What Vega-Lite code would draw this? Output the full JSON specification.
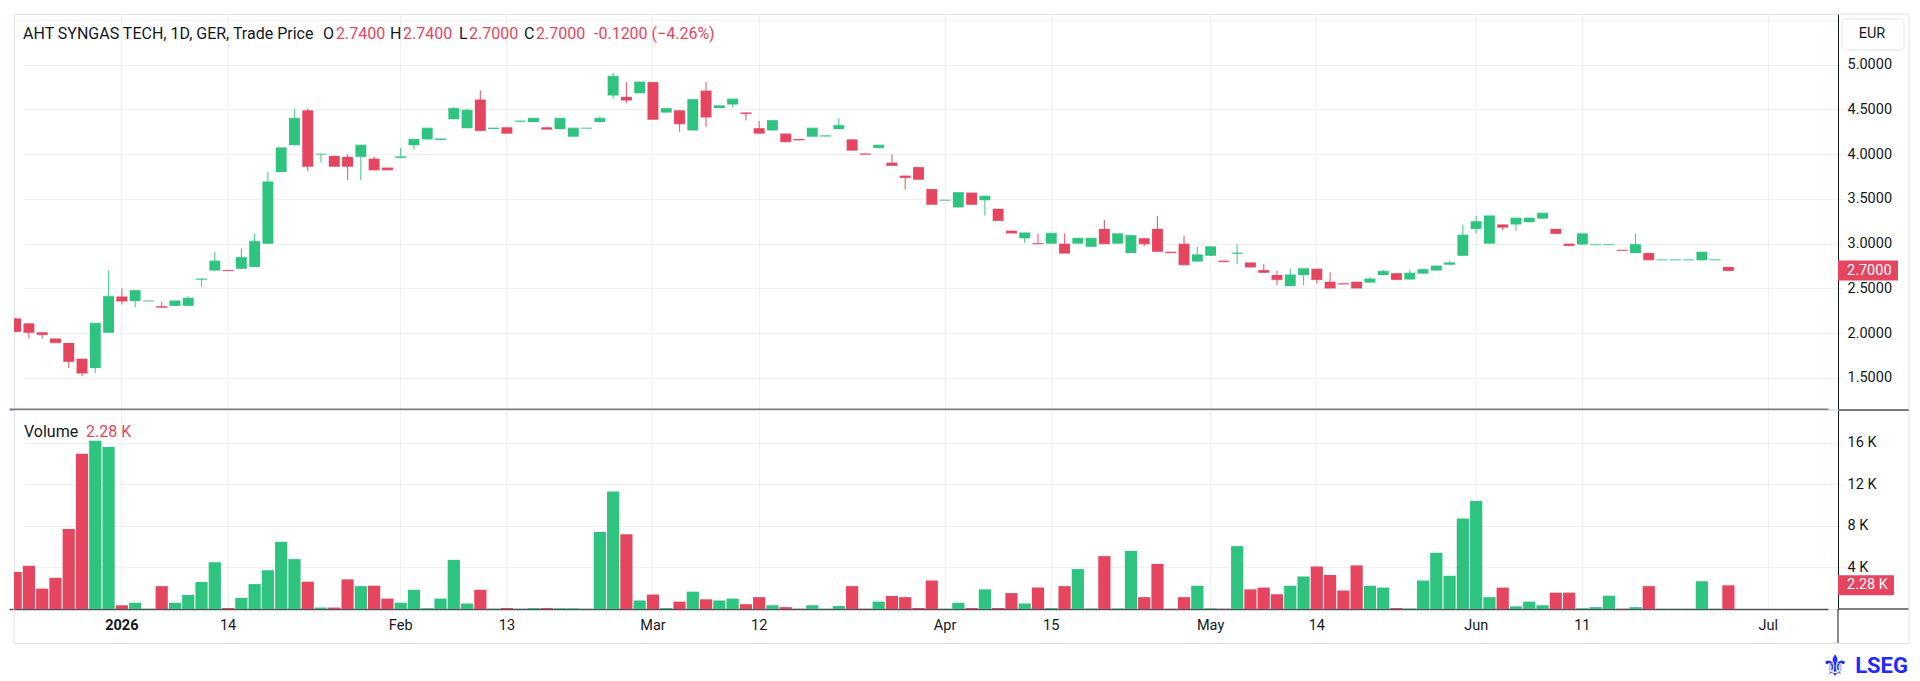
{
  "$schema": "https://vega.github.io/schema/vega-lite/v6.json",
  "background": "white",
  "padding": {"left": 13, "top": 13, "right": 13, "bottom": 5},
  "spacing": -2,
  "data": {
    "values": [
      {"d": "2025-12-16", "o": 2.165, "h": 2.17, "l": 2.01, "c": 2.02, "v": 3560},
      {"d": "2025-12-17", "o": 2.11, "h": 2.11, "l": 1.94, "c": 2.01, "v": 4160},
      {"d": "2025-12-18", "o": 2.01, "h": 2.01, "l": 1.94, "c": 1.985, "v": 1960},
      {"d": "2025-12-19", "o": 1.94, "h": 1.94, "l": 1.895, "c": 1.895, "v": 3000},
      {"d": "2025-12-22", "o": 1.89, "h": 1.89, "l": 1.61, "c": 1.685, "v": 7700},
      {"d": "2025-12-23", "o": 1.715, "h": 1.715, "l": 1.52, "c": 1.555, "v": 14950},
      {"d": "2025-12-29", "o": 1.61, "h": 2.11, "l": 1.555, "c": 2.11, "v": 16200},
      {"d": "2025-12-30", "o": 2.005, "h": 2.7, "l": 2.005, "c": 2.41, "v": 15600},
      {"d": "2026-01-02", "o": 2.41, "h": 2.5, "l": 2.32, "c": 2.36, "v": 360},
      {"d": "2026-01-05", "o": 2.36, "h": 2.48, "l": 2.29, "c": 2.475, "v": 600},
      {"d": "2026-01-06", "o": 2.36, "h": 2.36, "l": 2.36, "c": 2.36, "v": 20},
      {"d": "2026-01-07", "o": 2.3, "h": 2.35, "l": 2.29, "c": 2.29, "v": 2200},
      {"d": "2026-01-08", "o": 2.305, "h": 2.36, "l": 2.305, "c": 2.36, "v": 600},
      {"d": "2026-01-09", "o": 2.305, "h": 2.41, "l": 2.305, "c": 2.39, "v": 1350},
      {"d": "2026-01-12", "o": 2.6, "h": 2.61, "l": 2.515, "c": 2.605, "v": 2600},
      {"d": "2026-01-13", "o": 2.7, "h": 2.91, "l": 2.7, "c": 2.805, "v": 4500},
      {"d": "2026-01-14", "o": 2.705, "h": 2.705, "l": 2.7, "c": 2.7, "v": 100},
      {"d": "2026-01-15", "o": 2.72, "h": 2.945, "l": 2.72, "c": 2.845, "v": 1070},
      {"d": "2026-01-16", "o": 2.74, "h": 3.11, "l": 2.74, "c": 3.025, "v": 2400},
      {"d": "2026-01-19", "o": 3.0, "h": 3.8, "l": 3.0, "c": 3.69, "v": 3740},
      {"d": "2026-01-20", "o": 3.8, "h": 4.07, "l": 3.8, "c": 4.07, "v": 6480},
      {"d": "2026-01-21", "o": 4.1, "h": 4.51, "l": 4.1, "c": 4.4, "v": 4800},
      {"d": "2026-01-22", "o": 4.49, "h": 4.51, "l": 3.81, "c": 3.865, "v": 2630},
      {"d": "2026-01-23", "o": 4.0, "h": 4.0, "l": 3.905, "c": 4.0, "v": 140},
      {"d": "2026-01-26", "o": 3.98, "h": 3.98, "l": 3.865, "c": 3.865, "v": 140},
      {"d": "2026-01-27", "o": 3.97, "h": 4.0, "l": 3.71, "c": 3.865, "v": 2850},
      {"d": "2026-01-28", "o": 3.97, "h": 4.1, "l": 3.71, "c": 4.1, "v": 2200},
      {"d": "2026-01-29", "o": 3.95, "h": 3.97, "l": 3.825, "c": 3.825, "v": 2240},
      {"d": "2026-01-30", "o": 3.85, "h": 3.85, "l": 3.825, "c": 3.825, "v": 1000},
      {"d": "2026-02-02", "o": 3.96, "h": 4.07, "l": 3.96, "c": 3.97, "v": 600},
      {"d": "2026-02-03", "o": 4.1, "h": 4.165, "l": 4.05, "c": 4.165, "v": 1850},
      {"d": "2026-02-04", "o": 4.165, "h": 4.29, "l": 4.165, "c": 4.29, "v": 70},
      {"d": "2026-02-05", "o": 4.16, "h": 4.17, "l": 4.16, "c": 4.17, "v": 1000},
      {"d": "2026-02-06", "o": 4.39, "h": 4.525, "l": 4.39, "c": 4.51, "v": 4730},
      {"d": "2026-02-09", "o": 4.29, "h": 4.51, "l": 4.29, "c": 4.49, "v": 530},
      {"d": "2026-02-10", "o": 4.61, "h": 4.71, "l": 4.265, "c": 4.265, "v": 1850},
      {"d": "2026-02-12", "o": 4.28, "h": 4.29, "l": 4.28, "c": 4.29, "v": 30},
      {"d": "2026-02-13", "o": 4.3, "h": 4.3, "l": 4.235, "c": 4.235, "v": 100},
      {"d": "2026-02-16", "o": 4.365, "h": 4.37, "l": 4.365, "c": 4.37, "v": 20},
      {"d": "2026-02-17", "o": 4.36, "h": 4.4, "l": 4.36, "c": 4.4, "v": 100},
      {"d": "2026-02-18", "o": 4.3, "h": 4.3, "l": 4.28, "c": 4.28, "v": 100},
      {"d": "2026-02-19", "o": 4.28, "h": 4.4, "l": 4.28, "c": 4.4, "v": 70},
      {"d": "2026-02-20", "o": 4.195, "h": 4.29, "l": 4.195, "c": 4.29, "v": 70},
      {"d": "2026-02-23", "o": 4.29, "h": 4.29, "l": 4.29, "c": 4.29, "v": 20},
      {"d": "2026-02-24", "o": 4.36, "h": 4.42, "l": 4.36, "c": 4.4, "v": 7400},
      {"d": "2026-02-25", "o": 4.655, "h": 4.91, "l": 4.615, "c": 4.87, "v": 11300},
      {"d": "2026-02-26", "o": 4.64, "h": 4.805, "l": 4.565, "c": 4.605, "v": 7190},
      {"d": "2026-02-27", "o": 4.68, "h": 4.81, "l": 4.68, "c": 4.805, "v": 820},
      {"d": "2026-03-02", "o": 4.805, "h": 4.805, "l": 4.39, "c": 4.39, "v": 1390},
      {"d": "2026-03-03", "o": 4.465, "h": 4.51, "l": 4.465, "c": 4.51, "v": 100},
      {"d": "2026-03-04", "o": 4.49, "h": 4.49, "l": 4.25, "c": 4.34, "v": 710},
      {"d": "2026-03-05", "o": 4.265, "h": 4.61, "l": 4.265, "c": 4.61, "v": 1670},
      {"d": "2026-03-06", "o": 4.71, "h": 4.805, "l": 4.305, "c": 4.415, "v": 930},
      {"d": "2026-03-09", "o": 4.515, "h": 4.54, "l": 4.515, "c": 4.54, "v": 820},
      {"d": "2026-03-10", "o": 4.555, "h": 4.615, "l": 4.525, "c": 4.615, "v": 1000},
      {"d": "2026-03-11", "o": 4.465, "h": 4.465, "l": 4.375, "c": 4.455, "v": 460},
      {"d": "2026-03-12", "o": 4.29, "h": 4.37, "l": 4.235, "c": 4.235, "v": 1140},
      {"d": "2026-03-13", "o": 4.265, "h": 4.375, "l": 4.265, "c": 4.375, "v": 360},
      {"d": "2026-03-16", "o": 4.23, "h": 4.23, "l": 4.14, "c": 4.14, "v": 180},
      {"d": "2026-03-17", "o": 4.17, "h": 4.17, "l": 4.16, "c": 4.16, "v": 20},
      {"d": "2026-03-18", "o": 4.195, "h": 4.29, "l": 4.195, "c": 4.29, "v": 360},
      {"d": "2026-03-19", "o": 4.2, "h": 4.205, "l": 4.2, "c": 4.205, "v": 20},
      {"d": "2026-03-20", "o": 4.28, "h": 4.4, "l": 4.28, "c": 4.32, "v": 280},
      {"d": "2026-03-23", "o": 4.165, "h": 4.165, "l": 4.045, "c": 4.045, "v": 2200},
      {"d": "2026-03-24", "o": 4.005, "h": 4.005, "l": 4.0, "c": 4.0, "v": 20},
      {"d": "2026-03-25", "o": 4.07, "h": 4.1, "l": 4.07, "c": 4.1, "v": 710},
      {"d": "2026-03-26", "o": 3.905, "h": 4.0, "l": 3.875, "c": 3.875, "v": 1250},
      {"d": "2026-03-27", "o": 3.76, "h": 3.76, "l": 3.605, "c": 3.74, "v": 1140},
      {"d": "2026-03-30", "o": 3.855, "h": 3.855, "l": 3.72, "c": 3.72, "v": 100},
      {"d": "2026-03-31", "o": 3.61, "h": 3.61, "l": 3.44, "c": 3.44, "v": 2740},
      {"d": "2026-04-01", "o": 3.485, "h": 3.485, "l": 3.485, "c": 3.485, "v": 20},
      {"d": "2026-04-02", "o": 3.405, "h": 3.57, "l": 3.405, "c": 3.57, "v": 600},
      {"d": "2026-04-07", "o": 3.57, "h": 3.57, "l": 3.44, "c": 3.44, "v": 100},
      {"d": "2026-04-08", "o": 3.485, "h": 3.53, "l": 3.315, "c": 3.53, "v": 1890},
      {"d": "2026-04-09", "o": 3.39, "h": 3.39, "l": 3.26, "c": 3.26, "v": 100},
      {"d": "2026-04-10", "o": 3.145, "h": 3.145, "l": 3.12, "c": 3.12, "v": 1530},
      {"d": "2026-04-13", "o": 3.06, "h": 3.12, "l": 3.005, "c": 3.12, "v": 530},
      {"d": "2026-04-14", "o": 3.005, "h": 3.115, "l": 3.0, "c": 3.0, "v": 2060},
      {"d": "2026-04-15", "o": 3.0, "h": 3.115, "l": 3.0, "c": 3.115, "v": 100},
      {"d": "2026-04-16", "o": 3.0, "h": 3.115, "l": 2.895, "c": 2.895, "v": 2200},
      {"d": "2026-04-17", "o": 3.0, "h": 3.06, "l": 3.0, "c": 3.06, "v": 3840},
      {"d": "2026-04-20", "o": 2.965, "h": 3.06, "l": 2.965, "c": 3.06, "v": 50},
      {"d": "2026-04-21", "o": 3.165, "h": 3.265, "l": 3.0, "c": 3.0, "v": 5090},
      {"d": "2026-04-22", "o": 3.0, "h": 3.11, "l": 3.0, "c": 3.11, "v": 50},
      {"d": "2026-04-23", "o": 2.895, "h": 3.09, "l": 2.895, "c": 3.09, "v": 5590},
      {"d": "2026-04-24", "o": 3.06, "h": 3.06, "l": 2.97, "c": 3.0, "v": 1140},
      {"d": "2026-04-27", "o": 3.165, "h": 3.31, "l": 2.915, "c": 2.915, "v": 4340},
      {"d": "2026-04-28", "o": 2.91, "h": 2.91, "l": 2.9, "c": 2.9, "v": 20},
      {"d": "2026-04-29", "o": 3.0, "h": 3.09, "l": 2.765, "c": 2.765, "v": 1140},
      {"d": "2026-04-30", "o": 2.8, "h": 2.965, "l": 2.8, "c": 2.875, "v": 2240},
      {"d": "2026-05-04", "o": 2.865, "h": 2.965, "l": 2.865, "c": 2.965, "v": 70},
      {"d": "2026-05-05", "o": 2.81, "h": 2.81, "l": 2.8, "c": 2.8, "v": 20},
      {"d": "2026-05-06", "o": 2.89, "h": 3.0, "l": 2.77, "c": 2.895, "v": 6050},
      {"d": "2026-05-07", "o": 2.79, "h": 2.79, "l": 2.74, "c": 2.74, "v": 1890},
      {"d": "2026-05-08", "o": 2.705, "h": 2.77, "l": 2.68, "c": 2.68, "v": 2060},
      {"d": "2026-05-11", "o": 2.65, "h": 2.7, "l": 2.535, "c": 2.6, "v": 1420},
      {"d": "2026-05-12", "o": 2.525, "h": 2.72, "l": 2.525, "c": 2.65, "v": 2240},
      {"d": "2026-05-13", "o": 2.65, "h": 2.72, "l": 2.535, "c": 2.72, "v": 3130},
      {"d": "2026-05-14", "o": 2.72, "h": 2.72, "l": 2.555, "c": 2.6, "v": 4090},
      {"d": "2026-05-15", "o": 2.575, "h": 2.68, "l": 2.505, "c": 2.505, "v": 3270},
      {"d": "2026-05-18", "o": 2.555, "h": 2.555, "l": 2.55, "c": 2.55, "v": 1780},
      {"d": "2026-05-19", "o": 2.575, "h": 2.575, "l": 2.505, "c": 2.505, "v": 4200},
      {"d": "2026-05-20", "o": 2.565, "h": 2.625, "l": 2.565, "c": 2.605, "v": 2240},
      {"d": "2026-05-21", "o": 2.65, "h": 2.71, "l": 2.65, "c": 2.69, "v": 2060},
      {"d": "2026-05-22", "o": 2.67, "h": 2.67, "l": 2.6, "c": 2.6, "v": 100},
      {"d": "2026-05-25", "o": 2.6, "h": 2.71, "l": 2.6, "c": 2.67, "v": 50},
      {"d": "2026-05-26", "o": 2.665, "h": 2.71, "l": 2.665, "c": 2.71, "v": 2740},
      {"d": "2026-05-27", "o": 2.7, "h": 2.75, "l": 2.7, "c": 2.75, "v": 5410},
      {"d": "2026-05-28", "o": 2.765, "h": 2.81, "l": 2.765, "c": 2.785, "v": 3200},
      {"d": "2026-05-29", "o": 2.865, "h": 3.215, "l": 2.865, "c": 3.095, "v": 8720},
      {"d": "2026-06-01", "o": 3.165, "h": 3.31, "l": 3.115, "c": 3.245, "v": 10390},
      {"d": "2026-06-02", "o": 3.0, "h": 3.31, "l": 3.0, "c": 3.31, "v": 1140},
      {"d": "2026-06-03", "o": 3.215, "h": 3.215, "l": 3.15, "c": 3.185, "v": 2060},
      {"d": "2026-06-04", "o": 3.215, "h": 3.285, "l": 3.145, "c": 3.285, "v": 250},
      {"d": "2026-06-05", "o": 3.24, "h": 3.285, "l": 3.24, "c": 3.285, "v": 710},
      {"d": "2026-06-08", "o": 3.28, "h": 3.34, "l": 3.28, "c": 3.34, "v": 360},
      {"d": "2026-06-09", "o": 3.165, "h": 3.165, "l": 3.115, "c": 3.115, "v": 1570},
      {"d": "2026-06-10", "o": 3.0, "h": 3.0, "l": 2.98, "c": 2.98, "v": 1570},
      {"d": "2026-06-11", "o": 2.99, "h": 3.11, "l": 2.99, "c": 3.11, "v": 70},
      {"d": "2026-06-12", "o": 2.99, "h": 2.99, "l": 2.99, "c": 2.99, "v": 180},
      {"d": "2026-06-15", "o": 2.99, "h": 2.99, "l": 2.99, "c": 2.99, "v": 1280},
      {"d": "2026-06-16", "o": 2.93, "h": 2.93, "l": 2.925, "c": 2.925, "v": 20},
      {"d": "2026-06-17", "o": 2.895, "h": 3.115, "l": 2.895, "c": 2.99, "v": 180},
      {"d": "2026-06-18", "o": 2.895, "h": 2.895, "l": 2.82, "c": 2.82, "v": 2200},
      {"d": "2026-06-19", "o": 2.82, "h": 2.82, "l": 2.82, "c": 2.82, "v": 20},
      {"d": "2026-06-22", "o": 2.82, "h": 2.82, "l": 2.82, "c": 2.82, "v": 20},
      {"d": "2026-06-23", "o": 2.82, "h": 2.82, "l": 2.82, "c": 2.82, "v": 20},
      {"d": "2026-06-24", "o": 2.815, "h": 2.905, "l": 2.81, "c": 2.905, "v": 2670},
      {"d": "2026-06-25", "o": 2.82, "h": 2.82, "l": 2.82, "c": 2.82, "v": 20},
      {"d": "2026-06-26", "o": 2.74, "h": 2.74, "l": 2.7, "c": 2.7, "v": 2280}
    ]
  },
  "resolve": {"scale": {"x": "shared"}},
  "vconcat": [
    {
      "width": 1824,
      "height": 395,
      "layer": [
        {
          "mark": {"type": "rule", "strokeWidth": 1.2, "opacity": 0.8, "clip": true},
          "encoding": {
            "x": {
              "field": "d",
              "type": "ordinal",
              "scale": {
                "domain": {"unionWith": ["2026-06-29", "2026-06-30", "2026-07-01", "2026-07-02", "2026-07-03", "2026-07-06", "2026-07-07"]},
                "range": [-5, 1814],
                "paddingInner": 0,
                "paddingOuter": 0
              },
              "axis": {
                "orient": "bottom",
                "values": ["2026-01-02", "2026-01-14", "2026-02-02", "2026-02-13", "2026-03-02", "2026-03-12", "2026-04-01", "2026-04-15", "2026-05-04", "2026-05-14", "2026-06-01", "2026-06-11", "2026-07-01"],
                "labels": false,
                "ticks": false,
                "grid": true,
                "domainColor": "#787b86",
                "domainWidth": 2
              }
            },
            "y": {
              "field": "l",
              "type": "quantitative",
              "scale": {"domain": [1.153, 5.566], "zero": false, "nice": false},
              "axis": {
                "orient": "right",
                "values": [1.5, 2, 2.5, 3, 3.5, 4, 4.5, 5],
                "format": ".4f",
                "ticks": false,
                "labelPadding": 9,
                "domainColor": "#131722",
                "grid": true
              }
            },
            "y2": {"field": "h"},
            "color": {"condition": {"test": "datum.c >= datum.o", "value": "#2ec480"}, "value": "#e5455e"}
          }
        },
        {
          "mark": {"type": "bar", "width": {"band": 0.82}, "clip": true},
          "encoding": {
            "x": {"field": "d", "type": "ordinal"},
            "y": {"field": "o", "type": "quantitative"},
            "y2": {"field": "c"},
            "color": {"condition": {"test": "datum.c >= datum.o", "value": "#2ec480"}, "value": "#e5455e"}
          }
        },
        {
          "mark": {"type": "tick", "size": 11, "thickness": 1.3, "clip": true},
          "encoding": {
            "x": {"field": "d", "type": "ordinal"},
            "y": {"field": "c", "type": "quantitative"},
            "color": {"condition": {"test": "datum.c >= datum.o", "value": "#2ec480"}, "value": "#e5455e"}
          }
        },
        {
          "transform": [{"filter": "datum.d == '2026-06-26'"}],
          "mark": {"type": "tick", "size": 60, "thickness": 20, "color": "#e5455e", "opacity": 1},
          "encoding": {
            "x": {"value": 1854},
            "y": {"field": "c", "type": "quantitative"}
          }
        },
        {
          "transform": [{"filter": "datum.d == '2026-06-26'"}],
          "mark": {"type": "text", "align": "left", "baseline": "middle", "color": "white", "fontSize": 14.5},
          "encoding": {
            "x": {"value": 1833},
            "y": {"field": "c", "type": "quantitative"},
            "text": {"field": "c", "type": "quantitative", "format": ".4f"}
          }
        },
        {
          "data": {"values": [{}]},
          "mark": {"type": "rule", "color": "#f0f3fa", "strokeWidth": 1},
          "encoding": {"x": {"value": 0}, "x2": {"value": 1824}, "y": {"value": 6.5}}
        },
        {
          "data": {"values": [{}]},
          "mark": {"type": "rule", "color": "#e0e3eb", "strokeWidth": 1},
          "encoding": {"x": {"value": 1824}, "x2": {"value": 1895}, "y": {"value": 0}}
        },
        {
          "data": {"values": [{}]},
          "mark": {"type": "rule", "color": "#e0e3eb", "strokeWidth": 1},
          "encoding": {"x": {"value": 1895}, "y": {"value": 0}, "y2": {"value": 395}}
        },
        {
          "data": {"values": [{}]},
          "mark": {"type": "rect", "fill": "white", "stroke": "#e0e3eb", "cornerRadius": 4},
          "encoding": {"x": {"value": 1828}, "x2": {"value": 1890}, "y": {"value": 5}, "y2": {"value": 36}}
        },
        {
          "data": {"values": [{}]},
          "mark": {"type": "text", "align": "center", "baseline": "middle", "fontSize": 14.5, "color": "#131722"},
          "encoding": {"x": {"value": 1858}, "y": {"value": 20}, "text": {"value": "EUR"}}
        },
        {
          "data": {"values": [{}]},
          "mark": {"type": "text", "align": "left", "baseline": "middle", "fontSize": 16, "color": "#131722"},
          "encoding": {"x": {"value": 9}, "y": {"value": 20}, "text": {"value": "AHT SYNGAS TECH, 1D, GER, Trade Price"}}
        },
        {
          "data": {"values": [{}]},
          "mark": {"type": "text", "align": "left", "baseline": "middle", "fontSize": 16, "color": "#131722"},
          "encoding": {"x": {"value": 309}, "y": {"value": 20}, "text": {"value": "O"}}
        },
        {
          "data": {"values": [{}]},
          "mark": {"type": "text", "align": "left", "baseline": "middle", "fontSize": 16, "color": "#e5455e"},
          "encoding": {"x": {"value": 322}, "y": {"value": 20}, "text": {"value": "2.7400"}}
        },
        {
          "data": {"values": [{}]},
          "mark": {"type": "text", "align": "left", "baseline": "middle", "fontSize": 16, "color": "#131722"},
          "encoding": {"x": {"value": 376}, "y": {"value": 20}, "text": {"value": "H"}}
        },
        {
          "data": {"values": [{}]},
          "mark": {"type": "text", "align": "left", "baseline": "middle", "fontSize": 16, "color": "#e5455e"},
          "encoding": {"x": {"value": 389}, "y": {"value": 20}, "text": {"value": "2.7400"}}
        },
        {
          "data": {"values": [{}]},
          "mark": {"type": "text", "align": "left", "baseline": "middle", "fontSize": 16, "color": "#131722"},
          "encoding": {"x": {"value": 445}, "y": {"value": 20}, "text": {"value": "L"}}
        },
        {
          "data": {"values": [{}]},
          "mark": {"type": "text", "align": "left", "baseline": "middle", "fontSize": 16, "color": "#e5455e"},
          "encoding": {"x": {"value": 455}, "y": {"value": 20}, "text": {"value": "2.7000"}}
        },
        {
          "data": {"values": [{}]},
          "mark": {"type": "text", "align": "left", "baseline": "middle", "fontSize": 16, "color": "#131722"},
          "encoding": {"x": {"value": 510}, "y": {"value": 20}, "text": {"value": "C"}}
        },
        {
          "data": {"values": [{}]},
          "mark": {"type": "text", "align": "left", "baseline": "middle", "fontSize": 16, "color": "#e5455e"},
          "encoding": {"x": {"value": 522}, "y": {"value": 20}, "text": {"value": "2.7000"}}
        },
        {
          "data": {"values": [{}]},
          "mark": {"type": "text", "align": "left", "baseline": "middle", "fontSize": 16, "color": "#e5455e"},
          "encoding": {"x": {"value": 580}, "y": {"value": 20}, "text": {"value": "-0.1200 (−4.26%)"}}
        }
      ]
    },
    {
      "width": 1824,
      "height": 199,
      "layer": [
        {
          "mark": {"type": "bar", "width": {"band": 0.92}, "clip": true},
          "encoding": {
            "x": {
              "field": "d",
              "type": "ordinal",
              "axis": {
                "orient": "bottom",
                "values": ["2026-01-02", "2026-01-14", "2026-02-02", "2026-02-13", "2026-03-02", "2026-03-12", "2026-04-01", "2026-04-15", "2026-05-04", "2026-05-14", "2026-06-01", "2026-06-11", "2026-07-01"],
                "labelExpr": "datum.value == '2026-01-02' ? '2026' : (toNumber(slice(datum.value, 8)) <= 4 ? ['Jan','Feb','Mar','Apr','May','Jun','Jul'][toNumber(slice(datum.value, 5, 7)) - 1] : '' + toNumber(slice(datum.value, 8)))",
                "labelFontWeight": {"condition": {"test": "datum.value == '2026-01-02'", "value": "bold"}, "value": "normal"},
                "labelAngle": 0,
                "labelPadding": 9,
                "ticks": false,
                "grid": true,
                "domainColor": "#50535e",
                "domainWidth": 1.5
              }
            },
            "y": {
              "field": "v",
              "type": "quantitative",
              "scale": {"domain": [0, 19150], "nice": false},
              "axis": {
                "orient": "right",
                "values": [4000, 8000, 12000, 16000],
                "labelExpr": "datum.value / 1000 + ' K'",
                "ticks": false,
                "labelPadding": 9,
                "domainColor": "#131722",
                "grid": true
              }
            },
            "color": {"condition": {"test": "datum.c >= datum.o", "value": "#2ec480"}, "value": "#e5455e"}
          }
        },
        {
          "transform": [{"filter": "datum.d == '2026-06-26'"}],
          "mark": {"type": "tick", "size": 56, "thickness": 20, "color": "#e5455e", "opacity": 1},
          "encoding": {
            "x": {"value": 1852},
            "y": {"field": "v", "type": "quantitative"}
          }
        },
        {
          "transform": [{"filter": "datum.d == '2026-06-26'"}],
          "mark": {"type": "text", "align": "left", "baseline": "middle", "color": "white", "fontSize": 14.5},
          "encoding": {
            "x": {"value": 1833},
            "y": {"field": "v", "type": "quantitative"},
            "text": {"value": "2.28 K"}
          }
        },
        {
          "data": {"values": [{}]},
          "mark": {"type": "rule", "color": "#787b86", "strokeWidth": 2},
          "encoding": {"x": {"value": 1824}, "x2": {"value": 1895}, "y": {"value": 0}}
        },
        {
          "data": {"values": [{}]},
          "mark": {"type": "rule", "color": "#50535e", "strokeWidth": 1.5},
          "encoding": {"x": {"value": 1824}, "x2": {"value": 1895}, "y": {"value": 199}}
        },
        {
          "data": {"values": [{}]},
          "mark": {"type": "rule", "color": "#131722", "strokeWidth": 1},
          "encoding": {"x": {"value": 1824}, "y": {"value": 199}, "y2": {"value": 233.5}}
        },
        {
          "data": {"values": [{}]},
          "mark": {"type": "rule", "color": "#e0e3eb", "strokeWidth": 1},
          "encoding": {"x": {"value": 0}, "y": {"value": 199}, "y2": {"value": 233.5}}
        },
        {
          "data": {"values": [{}]},
          "mark": {"type": "rule", "color": "#e0e3eb", "strokeWidth": 1},
          "encoding": {"x": {"value": 0}, "x2": {"value": 1895}, "y": {"value": 233.5}}
        },
        {
          "data": {"values": [{}]},
          "mark": {"type": "rule", "color": "#e0e3eb", "strokeWidth": 1},
          "encoding": {"x": {"value": 1895}, "y": {"value": 0}, "y2": {"value": 233.5}}
        },
        {
          "data": {"values": [{}]},
          "mark": {"type": "text", "align": "left", "baseline": "middle", "fontSize": 16, "color": "#131722"},
          "encoding": {"x": {"value": 10}, "y": {"value": 22}, "text": {"value": "Volume"}}
        },
        {
          "data": {"values": [{}]},
          "mark": {"type": "text", "align": "left", "baseline": "middle", "fontSize": 16, "color": "#e5455e"},
          "encoding": {"x": {"value": 72}, "y": {"value": 22}, "text": {"value": "2.28 K"}}
        },
        {
          "data": {"values": [{}]},
          "mark": {"type": "text", "align": "center", "baseline": "middle", "fontSize": 30, "font": "DejaVu Sans", "color": "#1f2bff"},
          "encoding": {"x": {"value": 1821}, "y": {"value": 257}, "text": {"value": "⚜"}}
        },
        {
          "data": {"values": [{}]},
          "mark": {"type": "text", "align": "right", "baseline": "middle", "fontSize": 22, "fontWeight": "bold", "color": "#1f2bff"},
          "encoding": {"x": {"value": 1894}, "y": {"value": 256}, "text": {"value": "LSEG"}}
        }
      ]
    }
  ],
  "config": {
    "font": "Roboto",
    "view": {"stroke": "#e0e3eb"},
    "axis": {
      "title": null,
      "labelFont": "Roboto",
      "labelFontSize": 14.5,
      "labelColor": "#131722",
      "gridColor": "#f0f0f0",
      "gridWidth": 1.2
    }
  }
}
